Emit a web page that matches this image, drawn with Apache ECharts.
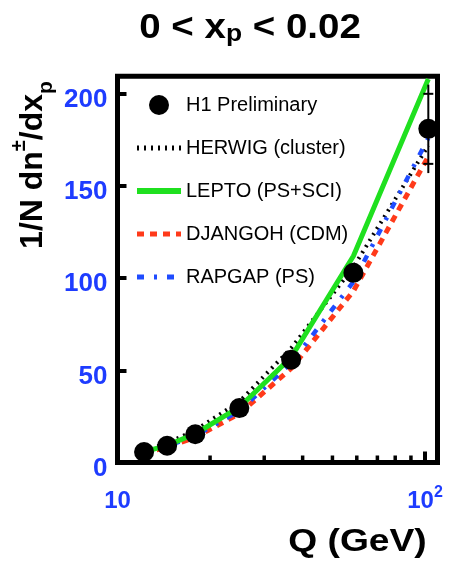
<!DOCTYPE html>
<html><head><meta charset="utf-8">
<script src="https://cdn.jsdelivr.net/npm/echarts@6/dist/echarts.min.js"></script>
<style>html,body{margin:0;padding:0;background:#fff}#c{width:449px;height:573px}</style>
</head><body><div id="c"></div>
<script>
// ---- data ----
const qValues   = [12.2, 14.5, 17.9, 24.9, 36.7, 58.5, 102.5];
const h1Data    = [5.7, 9.1, 15.3, 29.5, 55.8, 102.9, 181];
const h1StatErr = [0, 0, 0, 0, 0, 0, 19];
const h1TotErr  = [0, 0, 0, 0, 0, 0, 24];
const herwig    = [6.5, 10.5, 17.5, 33, 62, 106, 172];
const lepto     = [5.8, 9.3, 15.6, 30, 57, 112, 208];
const djangoh   = [5.2, 8.3, 13.7, 26.5, 51, 93, 166];
const rapgap    = [5.5, 8.8, 14.5, 28, 54, 98, 176];
const xMinorTicks = [20, 30, 40, 50, 60, 70, 80, 90];
const seriesNames = ['H1 Preliminary', 'HERWIG (cluster)', 'LEPTO (PS+SCI)', 'DJANGOH (CDM)', 'RAPGAP (PS)'];

const FONT = '"Liberation Sans", Arial, Helvetica, sans-serif';
const BLUE_LABEL = '#1e3cff';
const X_MIN = 10, X_MAX = 109.8, Y_MIN = 0, Y_MAX = 209.5;

const pair = arr => qValues.map((q, i) => [q, arr[i]]);
const hidden = {color: 'rgba(0,0,0,0)', borderWidth: 0, borderColor: 'rgba(0,0,0,0)'};

const chart = echarts.init(document.getElementById('c'), null, {renderer: 'canvas'});
chart.setOption({
  animation: false,
  backgroundColor: '#fff',
  grid: {left: 117.5, right: 11.5, top: 76.3, bottom: 110.5, show: true,
         borderColor: '#000', borderWidth: 5, backgroundColor: 'transparent'},
  xAxis: {
    type: 'log', logBase: 10, min: X_MIN, max: X_MAX,
    axisLine: {show: false},
    splitLine: {show: false},
    axisTick: {inside: true, length: 11, lineStyle: {color: '#000', width: 4}},
    axisLabel: {
      margin: 22, color: BLUE_LABEL, fontFamily: FONT, fontWeight: 'bold', fontSize: 24,
      lineHeight: 34, showMaxLabel: false,
      formatter: v => (Math.abs(v - 100) < 1e-6 ? '10{sup|2}' : (Math.abs(v - 10) < 1e-6 ? '10' : '')),
      rich: {sup: {fontSize: 16, fontWeight: 'bold', fontFamily: FONT, color: BLUE_LABEL, verticalAlign: 'top', lineHeight: 16}}
    }
  },
  yAxis: {
    type: 'value', min: Y_MIN, max: Y_MAX, interval: 50,
    axisLine: {show: false},
    splitLine: {show: false},
    axisTick: {inside: true, length: 9, lineStyle: {color: '#000', width: 4}},
    axisLabel: {margin: 10, color: BLUE_LABEL, fontFamily: FONT, fontWeight: 'bold', fontSize: 26,
                verticalAlign: 'top', lineHeight: 12, showMaxLabel: false}
  },
  legend: {
    orient: 'vertical', left: 134, top: 95, padding: 0, itemWidth: 44, itemHeight: 20, itemGap: 23,
    selectedMode: false,
    textStyle: {fontFamily: FONT, fontSize: 20, color: '#000', lineHeight: 20},
    data: [
      {name: seriesNames[0]},
      {name: seriesNames[1], itemStyle: hidden, lineStyle: {color: '#000', width: 5, type: [2, 5]}},
      {name: seriesNames[2], itemStyle: hidden, lineStyle: {color: '#1fe01f', width: 6, type: 'solid'}},
      {name: seriesNames[3], itemStyle: hidden, lineStyle: {color: '#ff3a1a', width: 5, type: [7, 6]}},
      {name: seriesNames[4], itemStyle: hidden, lineStyle: {color: '#1f4cff', width: 5, type: [7, 10, 3, 10]}}
    ]
  },
  graphic: [
    {type: 'text', x: 250, y: 28.5, scaleX: 1.1,
     style: {text: '0 < x{sub|p} < 0.02', font: 'bold 35px "Liberation Sans", Arial, sans-serif', fill: '#000',
             align: 'center', verticalAlign: 'middle',
             rich: {sub: {font: 'bold 24px "Liberation Sans", Arial, sans-serif', fill: '#000', verticalAlign: 'bottom', lineHeight: 24}}}},
    {type: 'text', x: 33, y: 165, rotation: Math.PI / 2,
     style: {text: '1/N dn{sup|±}/dx{sub|p}', font: 'bold 32px "Liberation Sans", Arial, sans-serif', fill: '#000',
             align: 'center', verticalAlign: 'middle', lineHeight: 48,
             rich: {sup: {font: 'bold 20px "Liberation Sans", Arial, sans-serif', fill: '#000', verticalAlign: 'top', lineHeight: 20},
                    sub: {font: 'bold 21px "Liberation Sans", Arial, sans-serif', fill: '#000', verticalAlign: 'bottom', lineHeight: 36}}}},
    {type: 'text', x: 357.5, y: 542.5, scaleX: 1.2,
     style: {text: 'Q (GeV)', font: 'bold 31px "Liberation Sans", Arial, sans-serif', fill: '#000',
             align: 'center', verticalAlign: 'middle'}}
  ],
  series: [
    {name: 'H1 Preliminary', type: 'scatter', data: pair(h1Data), symbol: 'circle', symbolSize: 20,
     itemStyle: {color: '#000', opacity: 1}, z: 6},
    {name: 'HERWIG (cluster)', type: 'line', data: pair(herwig), symbol: 'none', z: 3,
     lineStyle: {color: '#000', width: 4, type: [2, 5]}},
    {name: 'LEPTO (PS+SCI)', type: 'line', data: pair(lepto), symbol: 'none', z: 4,
     lineStyle: {color: '#1fe01f', width: 5, type: 'solid'}},
    {name: 'DJANGOH (CDM)', type: 'line', data: pair(djangoh), symbol: 'none', z: 3,
     lineStyle: {color: '#ff3a1a', width: 5, type: [7, 6]}},
    {name: 'RAPGAP (PS)', type: 'line', data: pair(rapgap), symbol: 'none', z: 3,
     lineStyle: {color: '#1f4cff', width: 4.5, type: [7, 10, 3, 10]}},
    {name: 'errors', type: 'custom', z: 5, silent: true, clip: false,
     data: qValues.map((q, i) => [q, h1Data[i], h1StatErr[i], h1TotErr[i]]).filter(d => d[3] > 0),
     encode: {x: 0, y: 1},
     renderItem: (params, api) => {
       const x = api.value(0), y = api.value(1), st = api.value(2), tot = api.value(3);
       const top = api.coord([x, Math.min(y + tot, Y_MAX)]);
       const bot = api.coord([x, y - tot]);
       const sTop = api.coord([x, y + st]);
       const sBot = api.coord([x, y - st]);
       const st2 = {stroke: '#000', lineWidth: 2};
       return {type: 'group', children: [
         {type: 'line', shape: {x1: top[0], y1: top[1], x2: bot[0], y2: bot[1]}, style: st2},
         {type: 'line', shape: {x1: sTop[0] - 5, y1: sTop[1], x2: sTop[0] + 5, y2: sTop[1]}, style: st2},
         {type: 'line', shape: {x1: sBot[0] - 5, y1: sBot[1], x2: sBot[0] + 5, y2: sBot[1]}, style: st2}
       ]};
     }},
    {name: 'minorTicks', type: 'custom', z: 7, silent: true, clip: false,
     data: xMinorTicks.map(v => [v, Y_MIN]),
     encode: {x: 0, y: 1},
     renderItem: (params, api) => {
       const p = api.coord([api.value(0), api.value(1)]);
       return {type: 'line', shape: {x1: p[0], y1: p[1], x2: p[0], y2: p[1] - 7},
               style: {stroke: '#000', lineWidth: 3.5}};
     }}
  ]
});
</script>
</body></html>
